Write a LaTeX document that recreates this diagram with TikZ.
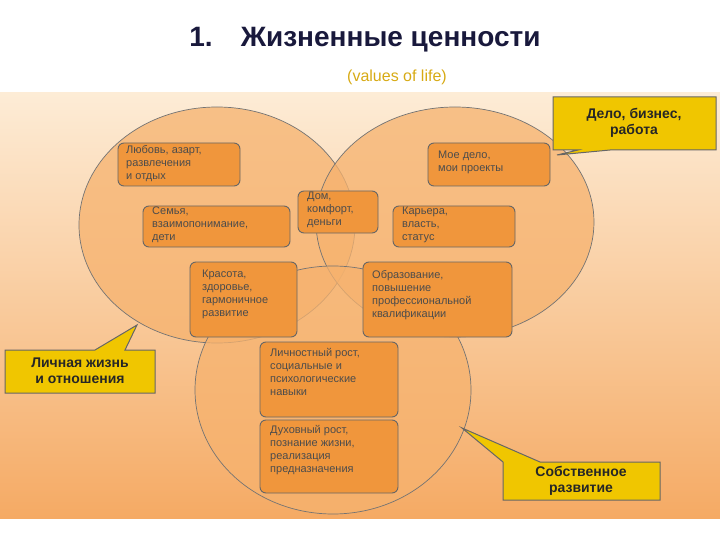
\documentclass[tikz,border=0pt]{standalone}
\usepackage{fontspec}
\setmainfont{Liberation Sans}
\begin{document}
\begin{tikzpicture}[x=1pt,y=-1pt,
 ov/.style={draw=black!55,fill={rgb,255:red,246;green,178;blue,110},fill opacity=0.75,line width=0.7pt},
 vbox/.style={draw=black!60,fill={rgb,255:red,240;green,150;blue,60},rounded corners=6pt,line width=0.9pt},
 txt/.style={align=left,font=\fontsize{11}{13}\selectfont,text=black!70,inner sep=0pt,anchor=north west},
 call/.style={draw=black!60,fill={rgb,255:red,240;green,198;blue,0},line width=1pt},
 ctxt/.style={align=center,font=\bfseries\fontsize{14}{16}\selectfont,text=black!85}]
\useasboundingbox (0,0) rectangle (720,540);
\shade[top color={rgb,255:red,253;green,236;blue,214},bottom color={rgb,255:red,245;green,170;blue,100}] (0,93) rectangle (720,518);
\node[text={rgb,255:red,25;green,25;blue,60}] (t) at (365,40) {\bfseries\fontsize{28}{32}\selectfont 1.\quad Жизненные ценности};
\node[text={rgb,255:red,215;green,170;blue,20}] (s) at (397,77) {\fontsize{16}{18}\selectfont (values of life)};
\draw[ov] (217,225) ellipse[x radius=138,y radius=118];
\draw[ov] (455,222) ellipse[x radius=139,y radius=115];
\draw[ov] (333,390) ellipse[x radius=138,y radius=124];
\draw[vbox] (118,143) rectangle (240,186); \node[txt] (a) at (126,145) {Любовь, азарт,\\развлечения\\и отдых};
\draw[vbox] (143,206) rectangle (290,247); \node[txt] (b) at (152,207) {Семья,\\взаимопонимание,\\дети};
\draw[vbox] (298,191) rectangle (378,233); \node[txt] (c) at (307,192) {Дом,\\комфорт,\\деньги};
\draw[vbox] (428,143) rectangle (550,186); \node[txt] (d) at (438,151) {Мое дело,\\мои проекты};
\draw[vbox] (393,206) rectangle (515,247); \node[txt] (e) at (402,207) {Карьера,\\власть,\\статус};
\draw[vbox] (190,262) rectangle (297,337); \node[txt] (f) at (202,270) {Красота,\\здоровье,\\гармоничное\\развитие};
\draw[vbox] (363,262) rectangle (512,337); \node[txt] (g) at (372,270) {Образование,\\повышение\\профессиональной\\квалификации};
\draw[vbox] (260,342) rectangle (398,417); \node[txt] (h) at (270,348) {Личностный рост,\\социальные и\\психологические\\навыки};
\draw[vbox] (260,420) rectangle (398,493); \node[txt] (i) at (270,425) {Духовный рост,\\познание жизни,\\реализация\\предназначения};
\coordinate (p1) at (557,155); \coordinate (p2) at (137,325); \coordinate (p3) at (462,428);
\draw[call] (553,97) -- (716,97) -- (716,150) -- (610,150) -- (p1) -- (578,150) -- (553,150) -- cycle;
\draw[call] (5,350) -- (95,350) -- (p2) -- (125,350) -- (155,350) -- (155,393) -- (5,393) -- cycle;
\draw[call] (503,462) -- (p3) -- (540,462) -- (660,462) -- (660,500) -- (503,500) -- cycle;
\node[ctxt] (L1) at (634,123) {Дело, бизнес,\\работа};
\node[ctxt] (L2) at (80,371) {Личная жизнь\\и отношения};
\node[ctxt] (L3) at (581,481) {Собственное\\развитие};
\end{tikzpicture}
\end{document}
